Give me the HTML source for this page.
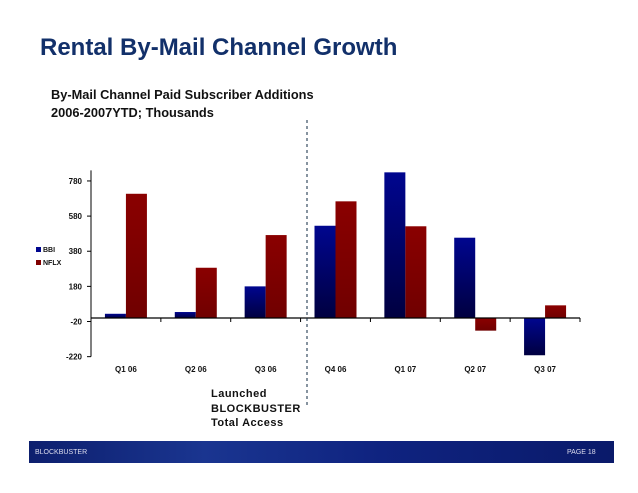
<!DOCTYPE html>
<html><head><meta charset="utf-8"><style>
body{margin:0;width:638px;height:493px;background:#fff;overflow:hidden;position:relative;font-family:"Liberation Sans",sans-serif}
.t{position:absolute;white-space:nowrap}
</style></head><body>
<div class="t" style="left:40px;top:34px;font-size:24px;font-weight:bold;color:#12306a">Rental By-Mail Channel Growth</div>
<div class="t" style="left:51px;top:86px;font-size:12.8px;font-weight:bold;line-height:18px;color:#111">By-Mail Channel Paid Subscriber Additions<br>2006-2007YTD; Thousands</div>
<svg id="chart" width="638" height="493" style="position:absolute;left:0;top:0">
<defs>
<linearGradient id="gb" x1="0" y1="0" x2="0" y2="1"><stop offset="0" stop-color="#00068f"/><stop offset="1" stop-color="#000040"/></linearGradient>
<linearGradient id="gr" x1="0" y1="0" x2="0" y2="1"><stop offset="0" stop-color="#8a0000"/><stop offset="1" stop-color="#700000"/></linearGradient>
</defs>
</svg>
<div class="t" style="left:211px;top:387px;font-size:11px;font-weight:bold;line-height:14.5px;color:#111;letter-spacing:0.5px">Launched<br>BLOCKBUSTER<br>Total Access</div>
<div style="position:absolute;left:29px;top:441px;width:585px;height:22px;background:linear-gradient(90deg,#0d1f6e,#1a3590 30%,#0f2380 60%,#0a1a6a)"></div>
<div class="t" style="left:35px;top:449px;font-size:7px;color:#dde;">BLOCKBUSTER</div>
<div class="t" style="left:567px;top:449px;font-size:7px;color:#dde;">PAGE 18</div>
<script>
const categories=["Q1 06","Q2 06","Q3 06","Q4 06","Q1 07","Q2 07","Q3 07"];
const bbi=[24,34,180,525,829,457,-212];
const nflx=[707,286,472,664,522,-72,72];
const yTicks=[-220,-20,180,380,580,780];
const svg=document.getElementById('chart');
const NS='http://www.w3.org/2000/svg';
const x0=91,x1=580,yZero=318,k=0.1757;
const cw=(x1-x0)/categories.length;
const y=v=>yZero-v*k;
const xc=i=>x0+cw*(i+0.5);
function mk(t,a){const e=document.createElementNS(NS,t);for(const n in a)e.setAttribute(n,a[n]);svg.appendChild(e);return e;}
const bw=21;
categories.forEach((c,i)=>{
  [[bbi,'url(#gb)',-bw,'bar-bbi'],[nflx,'url(#gr)',0,'bar-nflx']].forEach(([s,f,o,nm])=>{
    const v=s[i];const r=mk('rect',{x:xc(i)+o,y:Math.min(y(v),y(0)),width:bw,height:Math.abs(y(v)-y(0)),fill:f});
    
    
  });
  const t=mk('text',{x:xc(i),y:372,'font-size':8,'font-weight':'bold','text-anchor':'middle',fill:'#111'});
  t.textContent=c;
  
  
});
const ya=mk('line',{x1:x0,x2:x0,y1:y(840),y2:y(-220),stroke:'#000','stroke-width':1});


yTicks.forEach(v=>{
  mk('line',{x1:x0-4,x2:x0,y1:y(v),y2:y(v),stroke:'#000'});
  const t=mk('text',{x:x0-9,y:y(v)+3,'font-size':8,'font-weight':'bold','text-anchor':'end',fill:'#111'});
  t.textContent=v;
  
  
});
const xa=mk('line',{x1:x0,x2:x1,y1:y(0),y2:y(0),stroke:'#000','stroke-width':1.3});


for(let i=1;i<=categories.length;i++)mk('line',{x1:x0+cw*i,x2:x0+cw*i,y1:y(0),y2:y(0)+4,stroke:'#000'});
const dl=mk('line',{x1:307,x2:307,y1:120,y2:405,stroke:'#0f2a40','stroke-dasharray':'3,3','stroke-width':1});


[['BBI','#00068f',251],['NFLX','#800000',264]].forEach(([n,c,yy])=>{
  mk('rect',{x:36,y:yy-4,width:5,height:5,fill:c});
  const t=mk('text',{x:43,y:yy+1,'font-size':7,'font-weight':'bold',fill:'#111'});
  t.textContent=n;
  
  
});
</script>
</body></html>
